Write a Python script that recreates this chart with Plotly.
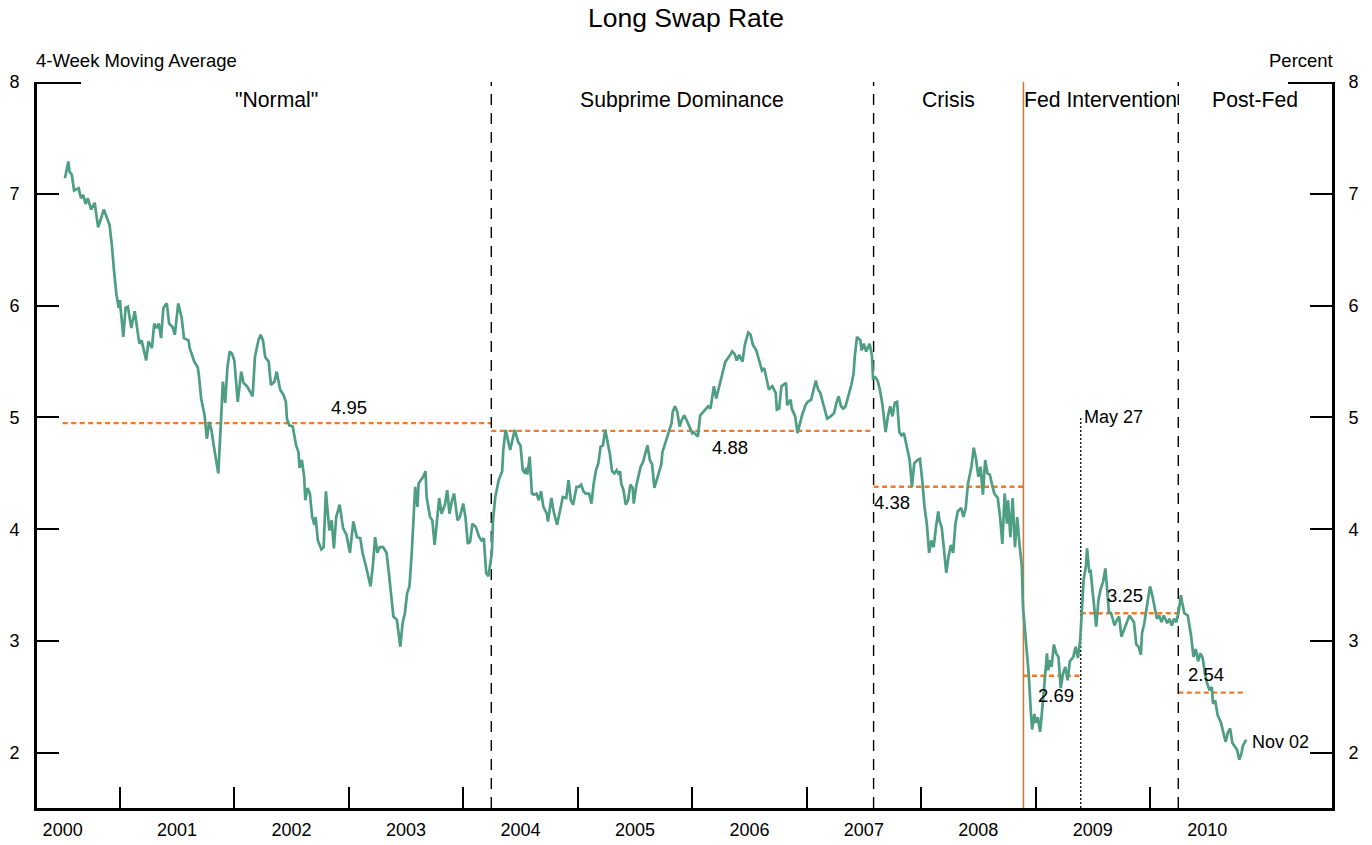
import plotly.graph_objects as go

# ---------------- data ----------------
t_years = [
    2000.52, 2000.55, 2000.56, 2000.58, 2000.60, 2000.64, 2000.66, 2000.68, 2000.70, 2000.72,
    2000.75, 2000.78, 2000.81, 2000.86, 2000.91, 2000.93, 2000.95, 2000.97, 2000.99, 2001.00,
    2001.03, 2001.05, 2001.07, 2001.10, 2001.13, 2001.17, 2001.19, 2001.23, 2001.25, 2001.28,
    2001.30, 2001.32, 2001.34, 2001.36, 2001.38, 2001.41, 2001.43, 2001.46, 2001.48, 2001.51,
    2001.54, 2001.56, 2001.60, 2001.61, 2001.65, 2001.68, 2001.69, 2001.71, 2001.74, 2001.76,
    2001.78, 2001.80, 2001.82, 2001.84, 2001.86, 2001.88, 2001.90, 2001.92, 2001.94, 2001.96,
    2001.98, 2002.00,
    2002.03, 2002.06, 2002.08, 2002.11, 2002.14, 2002.16, 2002.18, 2002.21, 2002.23, 2002.25,
    2002.27, 2002.30, 2002.32, 2002.35, 2002.37, 2002.40, 2002.43, 2002.45, 2002.46, 2002.48,
    2002.51, 2002.54, 2002.56, 2002.57, 2002.59, 2002.61, 2002.62, 2002.64, 2002.66, 2002.68,
    2002.70, 2002.71, 2002.73, 2002.76, 2002.78, 2002.80, 2002.83, 2002.85, 2002.87, 2002.89,
    2002.92, 2002.95, 2002.98, 2003.01, 2003.04, 2003.07, 2003.10, 2003.12, 2003.15, 2003.19,
    2003.21, 2003.23, 2003.25, 2003.27, 2003.30, 2003.33, 2003.35, 2003.37, 2003.39, 2003.42,
    2003.43, 2003.45, 2003.47, 2003.49, 2003.51, 2003.53, 2003.55, 2003.56, 2003.58, 2003.60,
    2003.61, 2003.63, 2003.65, 2003.67, 2003.68, 2003.71, 2003.73, 2003.75, 2003.77, 2003.79,
    2003.81, 2003.84, 2003.86, 2003.88, 2003.90, 2003.92, 2003.95, 2003.97, 2004.00, 2004.02,
    2004.04, 2004.06, 2004.08, 2004.11, 2004.14, 2004.16, 2004.18, 2004.20, 2004.22, 2004.25,
    2004.26, 2004.28, 2004.31,
    2004.34, 2004.35, 2004.37, 2004.39, 2004.41, 2004.45, 2004.48, 2004.50, 2004.52, 2004.54,
    2004.55, 2004.56, 2004.58, 2004.60, 2004.62, 2004.64, 2004.66, 2004.68, 2004.70, 2004.73,
    2004.74, 2004.77, 2004.79, 2004.82, 2004.84, 2004.87, 2004.90, 2004.92, 2004.94, 2004.96,
    2004.99, 2005.01, 2005.03, 2005.05, 2005.07, 2005.10, 2005.12, 2005.14, 2005.16, 2005.18,
    2005.20, 2005.22, 2005.24, 2005.26, 2005.28, 2005.30, 2005.32, 2005.34, 2005.36, 2005.37,
    2005.38, 2005.40, 2005.42, 2005.44, 2005.46, 2005.48, 2005.49, 2005.51, 2005.53, 2005.55,
    2005.57, 2005.59, 2005.61, 2005.63, 2005.65, 2005.67, 2005.69, 2005.71, 2005.73, 2005.74,
    2005.77, 2005.79, 2005.82, 2005.83, 2005.85, 2005.87, 2005.89, 2005.91, 2005.93, 2005.95,
    2005.98, 2006.00,
    2006.01, 2006.05, 2006.07, 2006.11, 2006.14, 2006.16, 2006.18, 2006.19, 2006.21, 2006.24,
    2006.26, 2006.29, 2006.32, 2006.35, 2006.37, 2006.39, 2006.41, 2006.44, 2006.46, 2006.49,
    2006.51, 2006.53, 2006.56, 2006.59, 2006.61, 2006.63, 2006.65, 2006.67, 2006.70, 2006.73,
    2006.74, 2006.76, 2006.78, 2006.82, 2006.83, 2006.86, 2006.87, 2006.90, 2006.92, 2006.94,
    2006.96, 2006.99, 2007.01, 2007.04, 2007.06, 2007.08, 2007.10, 2007.12, 2007.14, 2007.16,
    2007.18, 2007.21, 2007.24, 2007.26, 2007.28, 2007.30, 2007.32, 2007.34, 2007.36, 2007.39,
    2007.41, 2007.42, 2007.44, 2007.47, 2007.48, 2007.50, 2007.52, 2007.55, 2007.57, 2007.58,
    2007.60, 2007.62, 2007.64, 2007.66, 2007.69, 2007.71, 2007.73, 2007.75, 2007.77, 2007.79,
    2007.81, 2007.83, 2007.85, 2007.87, 2007.90, 2007.92, 2007.94, 2007.97, 2007.99, 2008.01,
    2008.03,
    2008.05, 2008.07, 2008.09, 2008.11, 2008.13, 2008.15, 2008.16, 2008.18, 2008.20, 2008.22,
    2008.24, 2008.26, 2008.28, 2008.30, 2008.32, 2008.35, 2008.37, 2008.39, 2008.41, 2008.44,
    2008.46, 2008.48, 2008.50, 2008.52, 2008.54, 2008.56, 2008.58, 2008.60, 2008.62, 2008.64,
    2008.67, 2008.69, 2008.71, 2008.73, 2008.75, 2008.76, 2008.78, 2008.80, 2008.82, 2008.84,
    2008.86, 2008.88, 2008.89, 2008.91, 2008.93, 2008.94, 2008.96, 2008.97, 2008.99, 2009.00,
    2009.02, 2009.04, 2009.06, 2009.08, 2009.10, 2009.11, 2009.13, 2009.14, 2009.16, 2009.18,
    2009.20, 2009.22, 2009.24, 2009.26, 2009.28, 2009.30, 2009.33, 2009.35, 2009.37, 2009.39,
    2009.41, 2009.42, 2009.44, 2009.45, 2009.47, 2009.48, 2009.50, 2009.52, 2009.53, 2009.55,
    2009.57, 2009.59, 2009.61, 2009.63, 2009.64, 2009.66, 2009.69, 2009.71, 2009.73, 2009.75,
    2009.77, 2009.79, 2009.82, 2009.84, 2009.86, 2009.88, 2009.90, 2009.92, 2009.93, 2009.95,
    2009.98, 2010.00, 2010.02, 2010.04, 2010.06, 2010.08, 2010.10, 2010.12, 2010.15, 2010.17,
    2010.19, 2010.21, 2010.23, 2010.25, 2010.27, 2010.28, 2010.30, 2010.33, 2010.35, 2010.36,
    2010.38, 2010.40, 2010.42, 2010.44, 2010.46, 2010.48, 2010.50, 2010.52, 2010.54, 2010.55,
    2010.57, 2010.59, 2010.62, 2010.64, 2010.66, 2010.68, 2010.70, 2010.72, 2010.75, 2010.76,
    2010.78, 2010.80, 2010.81, 2010.84,
]

swap_rate = [
    7.14, 7.29, 7.20, 7.17, 7.03, 7.05, 6.96, 6.99, 6.91, 6.96,
    6.86, 6.92, 6.70, 6.86, 6.72, 6.54, 6.30, 6.10, 5.98, 6.05,
    5.72, 5.98, 5.99, 5.80, 5.95, 5.66, 5.69, 5.51, 5.68, 5.62,
    5.84, 5.80, 5.84, 5.71, 5.98, 6.02, 5.84, 5.81, 5.74, 6.02,
    5.89, 5.71, 5.69, 5.62, 5.50, 5.45, 5.38, 5.17, 5.02, 4.81,
    4.96, 4.89, 4.75, 4.62, 4.50, 4.90, 5.32, 5.13, 5.45, 5.59,
    5.57, 5.51,
    5.14, 5.41, 5.31, 5.28, 5.23, 5.19, 5.54, 5.69, 5.74, 5.69,
    5.54, 5.50, 5.29, 5.32, 5.41, 5.25, 5.20, 5.14, 4.99, 4.93,
    4.92, 4.75, 4.69, 4.55, 4.62, 4.47, 4.26, 4.37, 4.32, 4.11,
    4.04, 4.11, 3.90, 3.82, 3.84, 4.34, 3.99, 4.08, 3.83, 4.11,
    4.22, 4.01, 3.95, 3.79, 4.07, 3.93, 3.92, 3.79, 3.67, 3.49,
    3.67, 3.93, 3.79, 3.84, 3.84, 3.79, 3.61, 3.40, 3.22, 3.19,
    3.10, 2.95, 3.16, 3.25, 3.43, 3.49, 3.79, 4.02, 4.38, 4.20,
    4.41, 4.44, 4.47, 4.52, 4.29, 4.11, 4.08, 3.86, 4.11, 4.28,
    4.14, 4.22, 4.35, 4.14, 4.25, 4.32, 4.08, 4.11, 4.23, 4.10,
    3.87, 3.89, 4.05, 4.02, 3.93, 3.90, 3.92, 3.61, 3.58, 3.79,
    4.08, 4.29, 4.44,
    4.52, 4.71, 4.89, 4.80, 4.71, 4.89, 4.78, 4.75, 4.53, 4.50,
    4.55, 4.49, 4.65, 4.32, 4.31, 4.32, 4.26, 4.34, 4.20, 4.14,
    4.07, 4.28, 4.16, 4.04, 4.14, 4.29, 4.28, 4.44, 4.26, 4.22,
    4.38, 4.38, 4.40, 4.34, 4.32, 4.32, 4.23, 4.41, 4.53, 4.59,
    4.74, 4.75, 4.89, 4.77, 4.68, 4.52, 4.50, 4.53, 4.49, 4.52,
    4.41, 4.35, 4.22, 4.26, 4.40, 4.37, 4.23, 4.38, 4.47, 4.56,
    4.60, 4.68, 4.75, 4.62, 4.58, 4.37, 4.44, 4.52, 4.58, 4.69,
    4.78, 4.86, 4.95, 5.05, 5.10, 5.05, 4.92, 4.98, 5.02, 4.98,
    4.90, 4.86,
    4.87, 4.83, 5.02, 5.07, 5.10, 5.08, 5.25, 5.28, 5.17, 5.29,
    5.39, 5.50, 5.54, 5.59, 5.57, 5.51, 5.56, 5.50, 5.65, 5.76,
    5.74, 5.65, 5.60, 5.50, 5.42, 5.44, 5.33, 5.25, 5.28, 5.22,
    5.07, 5.08, 5.28, 5.31, 5.11, 5.16, 5.08, 5.01, 4.86, 4.95,
    5.02, 5.11, 5.14, 5.16, 5.25, 5.33, 5.25, 5.22, 5.14, 5.07,
    4.99, 5.01, 5.04, 5.13, 5.19, 5.10, 5.08, 5.10, 5.17, 5.29,
    5.39, 5.54, 5.72, 5.69, 5.60, 5.66, 5.59, 5.66, 5.56, 5.35,
    5.36, 5.33, 5.25, 5.13, 4.87, 5.01, 5.10, 5.01, 5.13, 5.14,
    4.87, 4.84, 4.86, 4.77, 4.62, 4.38, 4.59, 4.62, 4.63, 4.44,
    4.20,
    4.05, 3.79, 3.90, 3.84, 4.02, 4.16, 4.08, 4.02, 3.82, 3.61,
    3.76, 3.86, 3.79, 4.05, 4.16, 4.19, 4.11, 4.19, 4.41, 4.56,
    4.73, 4.63, 4.47, 4.56, 4.31, 4.62, 4.50, 4.49, 4.40, 4.32,
    4.28, 4.11, 3.87, 4.32, 4.05, 4.26, 3.93, 4.28, 3.84, 4.11,
    3.86, 3.67, 3.31, 3.04, 2.77, 2.71, 2.35, 2.21, 2.35, 2.27,
    2.32, 2.19, 2.41, 2.65, 2.89, 2.74, 2.83, 2.77, 2.97, 2.89,
    2.86, 2.58, 2.71, 2.77, 2.65, 2.82, 2.86, 2.95, 2.85, 3.01,
    3.37, 3.55, 3.67, 3.83, 3.61, 3.64, 3.43, 3.19, 3.13, 3.37,
    3.47, 3.53, 3.65, 3.41, 3.26, 3.25, 3.14, 3.19, 3.22, 3.04,
    3.10, 3.16, 3.23, 3.20, 3.17, 2.97, 2.95, 2.88, 3.07, 3.16,
    3.34, 3.49, 3.41, 3.31, 3.20, 3.23, 3.17, 3.23, 3.16, 3.20,
    3.14, 3.20, 3.17, 3.26, 3.41, 3.35, 3.25, 3.23, 3.11, 3.04,
    2.86, 2.93, 2.82, 2.89, 2.85, 2.71, 2.62, 2.56, 2.59, 2.44,
    2.47, 2.34, 2.27, 2.18, 2.10, 2.18, 2.22, 2.09, 2.04, 2.03,
    1.94, 2.00, 2.06, 2.12,
]

# period boundaries (decimal years) and period means
mean_starts = [2000.50, 2004.245, 2007.585, 2008.894, 2009.395, 2010.247]
mean_ends = [2004.245, 2007.585, 2008.894, 2009.395, 2010.247, 2010.836]
mean_values = [4.95, 4.88, 4.38, 2.69, 3.25, 2.54]
mean_label_x = [2003.00, 2006.33, 2007.75, 2009.18, 2009.78, 2010.49]
mean_label_y = [5.09, 4.73, 4.24, 2.51, 3.41, 2.70]

region_names = ['"Normal"', "Subprime Dominance", "Crisis", "Fed Intervention", "Post-Fed"]
region_bounds = [2000.50, 2004.245, 2007.585, 2008.894, 2010.247, 2011.59]
dashed_breaks = [2004.245, 2007.585, 2010.247]
fed_date = 2008.894
may27_date = 2009.395
may27_top = 5.0
end_date = 2010.836
end_value = 2.10

year_starts = list(range(2001, 2011))
year_labels = [str(y) for y in range(2000, 2011)]
year_mids = [y + 0.5 for y in range(2000, 2011)]
y_ticks = [2, 3, 4, 5, 6, 7, 8]

x_range = [2000.276, 2011.59]
y_range = [1.508, 8.0]
y_top = y_range[1]
# the long top ticks are drawn on overlay axes nudged ~1.5 px so Plotly does not clip them at the edge
edge_nudge = 0.013
y_range_top_ticks = [y_range[0] + edge_nudge, y_range[1] + edge_nudge]

FONT = "Liberation Sans, Arial, sans-serif"
GREEN = "#4E9E82"
ORANGE = "#EE7A2B"
FEDCOL = "#CB7A40"

fig = go.Figure()

# period mean lines
mx, my = [], []
for a, b, m in zip(mean_starts, mean_ends, mean_values):
    mx += [a, b, None]
    my += [m, m, None]
fig.add_trace(go.Scatter(x=mx, y=my, mode="lines",
                         line=dict(color=ORANGE, width=2.4, dash="5px,3.5px"),
                         hoverinfo="skip", showlegend=False))

# dashed regime breaks
vx, vy = [], []
for d in dashed_breaks:
    vx += [d, d, None]
    vy += [y_range[0], y_top, None]
fig.add_trace(go.Scatter(x=vx, y=vy, mode="lines",
                         line=dict(color="black", width=1.4, dash="11px,8px"),
                         hoverinfo="skip", showlegend=False))

# Fed intervention line
fig.add_trace(go.Scatter(x=[fed_date, fed_date], y=[y_range[0], y_top], mode="lines",
                         line=dict(color=FEDCOL, width=1.6),
                         hoverinfo="skip", showlegend=False))

# May 27 dotted line
fig.add_trace(go.Scatter(x=[may27_date, may27_date], y=[y_range[0], may27_top], mode="lines",
                         line=dict(color="black", width=1.3, dash="2px,2px"),
                         hoverinfo="skip", showlegend=False))

# main series
fig.add_trace(go.Scatter(x=t_years, y=swap_rate, mode="lines",
                         line=dict(color=GREEN, width=2.7),
                         name="Long Swap Rate", showlegend=False))

# invisible anchors so the overlaid tick axes get drawn
for ax in ["y2", "y3", "y4"]:
    fig.add_trace(go.Scatter(x=[x_range[0]], y=[y_range[0] + 0.5], yaxis=ax, mode="markers",
                             marker=dict(opacity=0, size=1), hoverinfo="skip", showlegend=False))

annotations = []
for lx, ly, v in zip(mean_label_x, mean_label_y, mean_values):
    annotations.append(dict(x=lx, y=ly, xref="x", yref="y", text=f"{v:.2f}",
                            showarrow=False, font=dict(size=18.5, color="black", family=FONT)))
for i, name in enumerate(region_names):
    annotations.append(dict(x=(region_bounds[i] + region_bounds[i + 1]) / 2, y=7.84,
                            xref="x", yref="y", text=name, showarrow=False,
                            font=dict(size=21.2, color="black", family=FONT)))
annotations.append(dict(x=may27_date, y=may27_top, xref="x", yref="y", text="May 27",
                        xanchor="left", xshift=1, showarrow=False,
                        font=dict(size=18, color="black", family=FONT)))
annotations.append(dict(x=end_date, y=end_value, xref="x", yref="y", text="Nov 02",
                        xanchor="left", xshift=4, showarrow=False,
                        font=dict(size=18, color="black", family=FONT)))
annotations.append(dict(x=0, y=1.0303, xref="paper", yref="paper", text="4-Week Moving Average",
                        xanchor="left", yanchor="middle", xshift=-3, showarrow=False,
                        font=dict(size=18.5, color="black", family=FONT)))
annotations.append(dict(x=1, y=1.0303, xref="paper", yref="paper", text="Percent",
                        xanchor="right", yanchor="middle", xshift=3, showarrow=False,
                        font=dict(size=18.5, color="black", family=FONT)))

tickfont = dict(size=18, color="black", family=FONT)

fig.update_layout(
    width=1372, height=845,
    margin=dict(l=37, r=40, t=82, b=37, autoexpand=False),
    paper_bgcolor="white", plot_bgcolor="white",
    title=dict(text="Long Swap Rate", x=0.5, xanchor="center", y=1 - 18 / 845, yanchor="middle",
               xref="container", yref="container",
               font=dict(size=26.5, color="black", family=FONT)),
    font=dict(family=FONT, color="black"),
    annotations=annotations,
    xaxis=dict(range=x_range, tickmode="array", tickvals=year_mids, ticktext=year_labels,
               ticks="", ticklen=0, tickfont=tickfont, ticklabelstandoff=4, automargin=False,
               showgrid=False, zeroline=False, showline=True, linecolor="black", linewidth=2.6,
               minor=dict(tickmode="array", tickvals=year_starts, ticks="inside", ticklen=21,
                          tickwidth=2.2, tickcolor="black", showgrid=False)),
    yaxis=dict(range=y_range, tickmode="array", tickvals=y_ticks, ticks="inside", ticklen=22,
               tickwidth=2.2, tickcolor="black", tickfont=tickfont, ticklabelstandoff=11,
               automargin=False,
               showgrid=False, zeroline=False, showline=True, linecolor="black", linewidth=2.6),
    yaxis2=dict(range=y_range, overlaying="y", side="right", anchor="x", tickmode="array",
                tickvals=y_ticks, ticks="inside", ticklen=22, tickwidth=2.2, tickcolor="black",
                tickfont=tickfont, ticklabelstandoff=10, showgrid=False, zeroline=False,
                automargin=False,
                showline=True, linecolor="black", linewidth=2.6),
    yaxis3=dict(range=y_range_top_ticks, overlaying="y", side="left", anchor="x", tickmode="array",
                tickvals=[y_top], ticks="inside", ticklen=44, tickwidth=2.2, tickcolor="black",
                automargin=False,
                showticklabels=False, showgrid=False, zeroline=False, showline=False),
    yaxis4=dict(range=y_range_top_ticks, overlaying="y", side="right", anchor="x", tickmode="array",
                tickvals=[y_top], ticks="inside", ticklen=44, tickwidth=2.2, tickcolor="black",
                automargin=False,
                showticklabels=False, showgrid=False, zeroline=False, showline=False),
)

fig.write_html("out.html", config={"displayModeBar": False},
               post_script="document.body.style.margin='0';")
